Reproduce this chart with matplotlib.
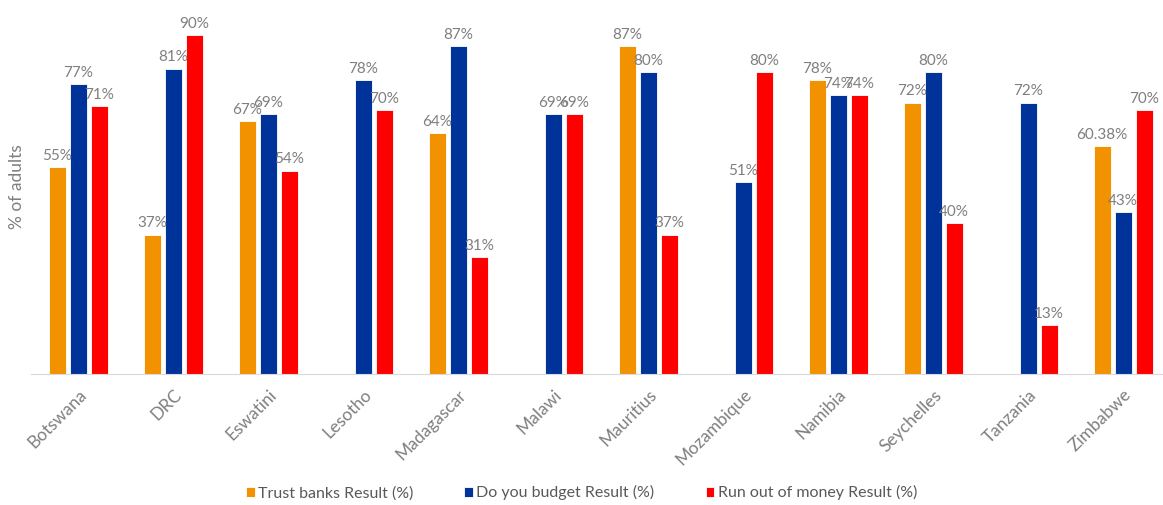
import numpy as np
import matplotlib.pyplot as plt

countries = ["Botswana", "DRC", "Eswatini", "Lesotho", "Madagascar", "Malawi",
             "Mauritius", "Mozambique", "Namibia", "Seychelles", "Tanzania", "Zimbabwe"]
trust_banks = [55, 37, 67, np.nan, 64, np.nan, 87, np.nan, 78, 72, np.nan, 60.38]
do_budget = [77, 81, 69, 78, 87, 69, 80, 51, 74, 80, 72, 43]
run_out = [71, 90, 54, 70, 31, 69, 37, 80, 74, 40, 13, 70]

series = [
    ("Trust banks Result (%)", trust_banks, "#F39200"),
    ("Do you budget Result (%)", do_budget, "#003399"),
    ("Run out of money Result (%)", run_out, "#FF0000"),
]

plt.rcParams["font.family"] = ["Lato", "DejaVu Sans"]
GREY = "#7f7f7f"

fig = plt.figure(figsize=(11.63, 5.05), dpi=100)
ax = fig.add_axes([31 / 1163, 0.259, 1 - 31 / 1163, 0.741])

x = np.arange(len(countries))
width = 0.179
step = 0.221

for i, (name, vals, color) in enumerate(series):
    pos = x + (i - 1) * step
    bars = ax.bar(pos, vals, width, color=color, edgecolor="white",
                  linewidth=0.6, label=name)
    for b, v in zip(bars, vals):
        if np.isnan(v):
            continue
        ax.annotate(f"{v:g}%", (b.get_x() + b.get_width() / 2, v),
                    xytext=(0, 3), textcoords="offset points",
                    ha="center", va="bottom", fontsize=11, color=GREY)

ax.set_xlim(-0.5, 11.42)
ax.set_ylim(0, 99.2)
ax.set_yticks([])
ax.set_xticks(x)
ax.set_xticklabels(countries, rotation=45, ha="right", rotation_mode="anchor",
                   fontsize=12.5, color=GREY)
ax.tick_params(axis="x", length=0, pad=9)
for side in ["top", "right", "left"]:
    ax.spines[side].set_visible(False)
ax.spines["bottom"].set_color("#d9d9d9")
ax.set_ylabel("% of adults", fontsize=12.5, color=GREY)
ax.yaxis.set_label_coords(-0.005, 0.5)

fig.legend(loc="center", bbox_to_anchor=(0.5, 0.024), ncol=3, frameon=False,
           fontsize=11.5, labelcolor="#595959", handlelength=0.55, handleheight=0.55,
           handletextpad=0.2, columnspacing=3.2)

fig.savefig("out.png", dpi=100)
